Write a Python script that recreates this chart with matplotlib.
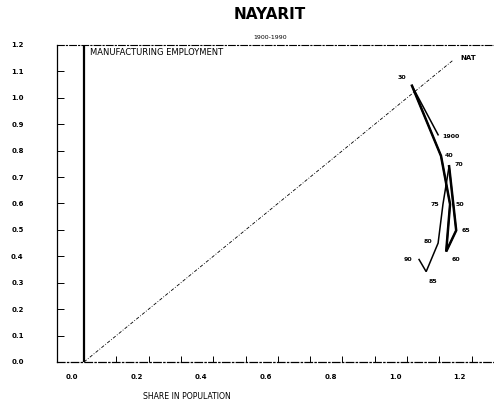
import matplotlib
matplotlib.use("Agg")
import matplotlib.pyplot as plt
import matplotlib.transforms as mtransforms
import numpy as np

# === data ===
years = ["1900", "30", "40", "50", "60", "65", "70", "75", "80", "85", "90"]
share_pop = [1.096, 1.015, 1.105, 1.133, 1.121, 1.152, 1.130, 1.111, 1.096, 1.059, 1.037]
share_manuf = [0.860, 1.046, 0.780, 0.597, 0.418, 0.498, 0.741, 0.597, 0.450, 0.342, 0.388]
diag = [0.0, 1.14]
xtick_vals = [0.0, 0.2, 0.4, 0.6, 0.8, 1.0, 1.2]
xtick_labels = ["0.0", "0.2", "0.4", "0.6", "0.8", "1.0", "1.2"]
ytick_vals = [0.0, 0.1, 0.2, 0.3, 0.4, 0.5, 0.6, 0.7, 0.8, 0.9, 1.0, 1.1, 1.2]
ytick_labels = ["0.0", "0.1", "0.2", "0.3", "0.4", "0.5", "0.6", "0.7", "0.8", "0.9", "1.0", "1.1", "1.2"]

# label offsets in points (style only)
lab_off = [(9, -1), (-7, 6), (6, 0), (7, 0), (7, -6), (7, 0), (7, 1), (-6, 0), (-7, 1), (5, -7), (-8, 0)]

fig = plt.figure(figsize=(4.94, 4.07), dpi=100)
ax = fig.add_axes([0.1154, 0.1106, 0.8846, 0.7789])
ax.set_xlim(-0.0836, 1.269)
ax.set_ylim(0, 1.2)

# frame
ax.spines["right"].set_visible(False)
ax.spines["top"].set_linestyle((0, (6, 2, 1, 2)))
ax.spines["top"].set_linewidth(0.8)
ax.spines["bottom"].set_linestyle((0, (6, 2, 1, 2)))
ax.spines["bottom"].set_linewidth(0.9)
ax.spines["left"].set_linewidth(0.9)

# vertical origin line and 45 degree line
ax.plot([0, 0], [0, 1.2], color="black", lw=1.6, solid_capstyle="butt")
ax.plot(diag, diag, color="black", lw=0.6, linestyle=(0, (4, 2, 1, 2)))

# trajectory: thin overall, heavier through 1930-1970
ax.plot(share_pop, share_manuf, color="black", lw=1.1, solid_joinstyle="miter")
ax.plot(share_pop[1:7], share_manuf[1:7], color="black", lw=1.8, solid_joinstyle="miter")
for yr, x, y, off in zip(years, share_pop, share_manuf, lab_off):
    ax.annotate(yr, (x, y), xytext=off, textcoords="offset points",
                ha="center", va="center", fontsize=4.5, fontweight="bold")

# ticks
ax.set_yticks(ytick_vals)
ax.set_yticklabels(ytick_labels, fontsize=5, fontweight="bold")
ax.tick_params(axis="y", direction="in", length=5, width=0.7, pad=24)
ax.set_xticks(xtick_vals)
ax.set_xticklabels(xtick_labels, fontsize=5, fontweight="bold")
ax.set_xticks(np.arange(0.1, 1.25, 0.1), minor=True)
ax.tick_params(axis="x", which="both", direction="in", length=4, width=0.7, pad=9)
shift = mtransforms.ScaledTranslation(-0.12, 0, fig.dpi_scale_trans)
for lab in ax.get_xticklabels():
    lab.set_transform(lab.get_transform() + shift)

# text
fig.text(0.547, 0.965, "NAYARIT", ha="center", va="center", fontsize=11, fontweight="bold")
fig.text(0.547, 0.909, "1900-1990", ha="center", va="center", fontsize=4.5)
ax.text(0.02, 1.17, "MANUFACTURING EMPLOYMENT", ha="left", va="center", fontsize=6)
ax.text(1.19, 1.15, "NAT", ha="center", va="center", fontsize=5, fontweight="bold")
fig.text(0.29, 0.025, "SHARE IN POPULATION", ha="left", va="center", fontsize=5.6)

fig.savefig("out.png", dpi=100)
